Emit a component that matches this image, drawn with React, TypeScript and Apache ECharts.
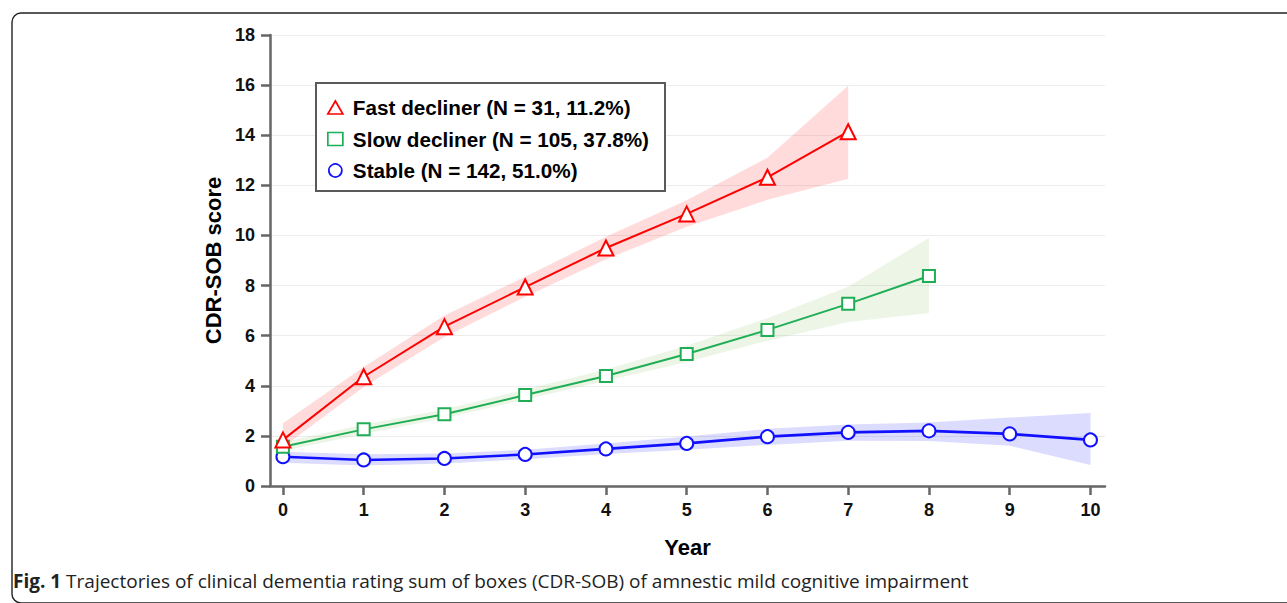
import React, { useEffect, useRef } from "react";
import * as echarts from "echarts";

const years = [0, 1, 2, 3, 4, 5, 6, 7, 8, 9, 10];
const yTicksMax = 18;

const fastName = "Fast decliner (N = 31, 11.2%)";
const slowName = "Slow decliner (N = 105, 37.8%)";
const stableName = "Stable (N = 142, 51.0%)";

const fastMean = [1.84, 4.36, 6.36, 7.94, 9.5, 10.86, 12.32, 14.14];
const fastLower = [1.55, 3.95, 5.95, 7.55, 9.05, 10.35, 11.42, 12.26];
const fastUpper = [2.5, 4.75, 6.8, 8.35, 9.95, 11.4, 13.1, 15.97];

const slowMean = [1.57, 2.26, 2.86, 3.63, 4.39, 5.27, 6.23, 7.27, 8.38];
const slowLower = [1.4, 2.08, 2.7, 3.45, 4.2, 4.95, 5.8, 6.55, 6.9];
const slowUpper = [1.75, 2.45, 3.05, 3.85, 4.65, 5.6, 6.7, 7.95, 9.9];

const stableMean = [1.17, 1.04, 1.1, 1.26, 1.48, 1.7, 1.97, 2.14, 2.2, 2.08, 1.84];
const stableLower = [0.93, 0.82, 0.9, 1.07, 1.28, 1.45, 1.64, 1.81, 1.8, 1.61, 0.84];
const stableUpper = [1.37, 1.27, 1.3, 1.45, 1.7, 1.98, 2.28, 2.45, 2.53, 2.73, 2.91];

const caption = "Trajectories of clinical dementia rating sum of boxes (CDR-SOB) of amnestic mild cognitive impairment";

const FONT = "'Liberation Sans', Arial, Helvetica, sans-serif";
const CAP_FONT = "'Open Sans', 'Noto Sans', sans-serif";

function band(name: string, lower: number[], upper: number[], fill: string) {
  const data = lower.map((l, i) => [years[i], l, upper[i]]);
  return {
    type: "custom",
    name,
    z: 1,
    silent: true,
    encode: { x: 0, y: [1, 2] },
    data,
    renderItem: (params: any, api: any) => {
      if (params.dataIndex !== 0) return { type: "group", children: [] };
      const top = upper.map((u, i) => api.coord([years[i], u]));
      const bottom = lower.map((l, i) => api.coord([years[i], l])).reverse();
      return {
        type: "polygon",
        shape: { points: top.concat(bottom) },
        style: { fill },
        silent: true,
      };
    },
  };
}

function line(name: string, mean: number[], color: string, symbol: string, size: number, width: number) {
  return {
    type: "line",
    name,
    z: 3,
    data: mean.map((v, i) => [years[i], v]),
    symbol,
    symbolSize: size,
    showAllSymbol: true,
    lineStyle: { color, width },
    itemStyle: { color: "#ffffff", borderColor: color, borderWidth: 2 },
    emphasis: { disabled: true },
  };
}

export default function App() {
  const ref = useRef<HTMLDivElement>(null);
  useEffect(() => {
    if (!ref.current) return;
    const chart = echarts.init(ref.current, undefined, { renderer: "svg" });
    const red = "#ff0000";
    const green = "#1fae55";
    const blue = "#1010ff";
    chart.setOption({
      animation: false,
      backgroundColor: "#ffffff",
      grid: { left: 270, top: 35, width: 835, height: 451, containLabel: false },
      xAxis: {
        type: "value",
        min: -0.16,
        max: 10.18,
        name: "Year",
        nameLocation: "middle",
        nameGap: 50,
        nameTextStyle: { fontFamily: FONT, fontWeight: "bold", fontSize: 22, color: "#000" },
        axisLine: { show: true, onZero: false, lineStyle: { color: "#666", width: 2.5 } },
        axisTick: { show: true, length: 9, customValues: years, lineStyle: { color: "#666", width: 2.5 } },
        axisLabel: { customValues: years, margin: 15, fontFamily: FONT, fontWeight: "bold", fontSize: 18, color: "#111" },
        splitLine: { show: false },
      },
      yAxis: {
        type: "value",
        min: 0,
        max: yTicksMax,
        interval: 2,
        name: "CDR-SOB score",
        nameLocation: "middle",
        nameGap: 34,
        nameTextStyle: { fontFamily: FONT, fontWeight: "bold", fontSize: 22, color: "#000" },
        axisLine: { show: true, onZero: false, lineStyle: { color: "#666", width: 2.5 } },
        axisTick: { show: true, length: 9, lineStyle: { color: "#666", width: 2.5 } },
        axisLabel: { margin: 15, fontFamily: FONT, fontWeight: "bold", fontSize: 18, color: "#111" },
        splitLine: { show: true, lineStyle: { color: "#ececec", width: 1 } },
      },
      legend: {
        orient: "vertical",
        left: 327,
        top: 97,
        padding: 0,
        z: 20,
        itemWidth: 15,
        itemHeight: 13,
        itemGap: 10.5,
        selectedMode: false,
        textStyle: { fontFamily: FONT, fontWeight: "bold", fontSize: 20.7, color: "#000", lineHeight: 20, padding: [0, 0, 0, 5] },
        data: [
          { name: fastName, icon: "triangle", itemStyle: { color: "#fff", borderColor: red, borderWidth: 1.7 } },
          { name: slowName, icon: "rect", itemStyle: { color: "#fff", borderColor: green, borderWidth: 1.7 } },
          { name: stableName, icon: "circle", itemStyle: { color: "#fff", borderColor: blue, borderWidth: 1.7 } },
        ],
      },
      graphic: [
        {
          type: "rect",
          left: 9.5,
          top: 10.5,
          z: -10,
          shape: { width: 1300, height: 590, r: 9 },
          style: { fill: "none", stroke: "#222", lineWidth: 1.4 },
          silent: true,
        },
        {
          type: "rect",
          left: 315,
          top: 82,
          z: 2,
          shape: { width: 349, height: 108 },
          style: { fill: "#ffffff", stroke: "#5a5a5a", lineWidth: 2 },
          silent: true,
        },
        {
          type: "text",
          left: 13,
          top: 571,
          style: {
            text: "{b|Fig. 1} " + caption,
            fontFamily: CAP_FONT,
            fontSize: 19,
            fill: "#222",
            rich: {
              b: { fontFamily: CAP_FONT, fontWeight: "bold", fontSize: 19, fill: "#222" },
            },
          },
          silent: true,
        },
      ],
      series: [
        band("fast-band", fastLower, fastUpper, "rgba(255,40,40,0.17)"),
        band("slow-band", slowLower, slowUpper, "rgba(110,175,60,0.13)"),
        band("stable-band", stableLower, stableUpper, "rgba(40,40,255,0.16)"),
        line(stableName, stableMean, blue, "circle", 13, 2.6),
        line(slowName, slowMean, green, "rect", 12, 2),
        line(fastName, fastMean, red, "triangle", 15, 2),
      ],
    });
    return () => chart.dispose();
  }, []);
  return (
    <div
      ref={ref}
      style={{ position: "fixed", left: 0, top: 0, width: 1287, height: 603, background: "#fff" }}
    />
  );
}
